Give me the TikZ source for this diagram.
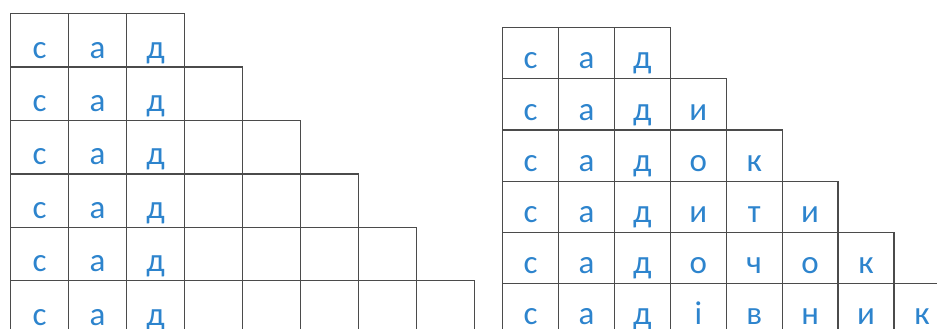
\documentclass[tikz,border=0pt]{standalone}
\usepackage{fontspec}
\setmainfont{Carlito}
\definecolor{letterblue}{RGB}{45,132,205}
\definecolor{gridgray}{RGB}{75,75,75}
\begin{document}
\begin{tikzpicture}[x=1pt,y=-1pt,
  cellbase/.style={draw=gridgray, line width=1.3pt, inner sep=0pt, text depth=0pt,
    font=\fontsize{33}{33}\selectfont, text=letterblue, anchor=north west},
  cellL/.style={cellbase, minimum width=58pt, minimum height=53.4pt, text height=35.4pt},
  cellR/.style={cellbase, minimum width=55.9pt, minimum height=51.2pt, text height=31.2pt}]
\useasboundingbox (0,0) rectangle (937,329);
\clip (0,0) rectangle (937,329);
% left grid
\foreach \r in {0,...,5}{
  \pgfmathtruncatemacro\n{2+\r}
  \foreach \c in {0,...,\n}{
    \node[cellL] (L\r-\c) at (10+58*\c, 13+53.4*\r) {\ifcase\c с\or а\or д\fi};
  }
}
% right grid
\foreach \w [count=\r from 0] in {{с,а,д},{с,а,д,и},{с,а,д,о,к},{с,а,д,и,т,и},{с,а,д,о,ч,о,к},{с,а,д,і,в,н,и,к}}{
  \foreach \l [count=\c from 0] in \w {
    \node[cellR] (R\r-\c) at (502+55.9*\c, 27+51.2*\r) {\l};
  }
}
\end{tikzpicture}
\end{document}
